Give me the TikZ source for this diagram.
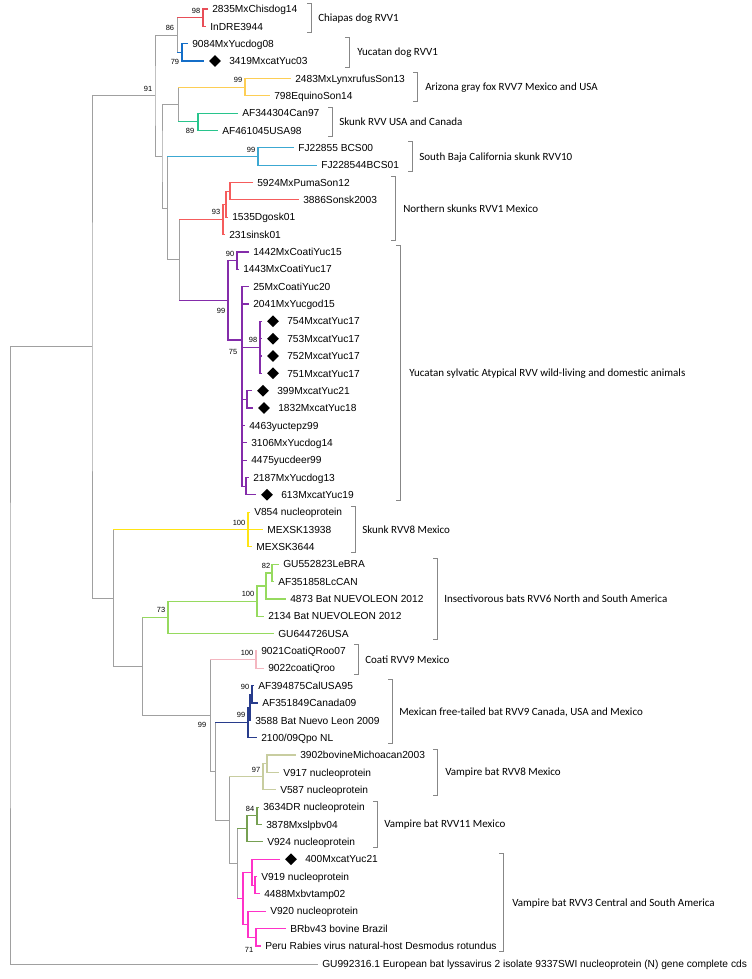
\documentclass[tikz,border=0pt]{standalone}
\usepackage{fontspec}
\setmainfont{Liberation Sans}
\newfontfamily\cladefont{Carlito}
\usetikzlibrary{shapes.geometric}
\definecolor{brgrey}{RGB}{160,160,160}
\definecolor{bkgrey}{RGB}{135,135,135}
\definecolor{chisred}{RGB}{232,78,88}
\definecolor{ydogblue}{RGB}{20,110,200}
\definecolor{foxyellow}{RGB}{253,206,85}
\definecolor{skgreen}{RGB}{40,196,140}
\definecolor{bajablue}{RGB}{60,168,210}
\definecolor{nskred}{RGB}{245,92,92}
\definecolor{yucpurple}{RGB}{132,44,170}
\definecolor{skyellow}{RGB}{255,228,20}
\definecolor{insgreen}{RGB}{150,218,95}
\definecolor{coatipink}{RGB}{244,182,192}
\definecolor{tbnavy}{RGB}{40,60,140}
\definecolor{vbtan}{RGB}{200,205,160}
\definecolor{vbolive}{RGB}{118,160,82}
\definecolor{vbmag}{RGB}{255,50,200}

\begin{document}
\begin{tikzpicture}[x=0.75pt, y=-0.75pt,
    br/.style={draw=brgrey, line width=0.75pt},
    chis/.style={draw=chisred, line width=0.9pt},
    ydog/.style={draw=ydogblue, line width=0.9pt},
    fox/.style={draw=foxyellow, line width=0.9pt},
    sku/.style={draw=skgreen, line width=0.9pt},
    baja/.style={draw=bajablue, line width=0.9pt},
    nsk/.style={draw=nskred, line width=0.9pt},
    yuc/.style={draw=yucpurple, line width=0.9pt},
    skeight/.style={draw=skyellow, line width=0.9pt},
    ins/.style={draw=insgreen, line width=0.9pt},
    coati/.style={draw=coatipink, line width=0.9pt},
    tb/.style={draw=tbnavy, line width=0.9pt},
    vbeight/.style={draw=vbtan, line width=0.9pt},
    vbeleven/.style={draw=vbolive, line width=0.9pt},
    vbthree/.style={draw=vbmag, line width=0.9pt},
    brk/.style={draw=bkgrey, line width=0.7pt},
    leaf/.style={anchor=west, inner sep=0pt, text height=5.5pt, text depth=0pt, font=\fontsize{7.65}{9}\selectfont},
    clade/.style={anchor=west, inner sep=0pt, text height=5.3pt, text depth=0pt, font=\cladefont\fontsize{8.25}{10}\selectfont},
    bs/.style={inner sep=0pt, font=\fontsize{5.6}{6}\selectfont},
    catmark/.style={diamond, fill=black, inner sep=0pt, minimum size=9pt}]

  \useasboundingbox (0,0) rectangle (751,979);

  % tips and leaf labels
  \coordinate (t0) at (208,9);      \node[leaf] (l0) at (212,9) {2835MxChisdog14};
  \coordinate (t1) at (206,26.35);  \node[leaf] (l1) at (210,26.35) {InDRE3944};
  \coordinate (t2) at (188,43.7);   \node[leaf] (l2) at (192,43.7) {9084MxYucdog08};
  \coordinate (t3) at (204,61.05);  \node[catmark] (m3) at (215,61.05) {};
  \node[leaf] (l3) at (229,61.05) {3419MxcatYuc03};
  \coordinate (t4) at (291,78.4);   \node[leaf] (l4) at (295,78.4) {2483MxLynxrufusSon13};
  \coordinate (t5) at (270,95.75);  \node[leaf] (l5) at (274,95.75) {798EquinoSon14};
  \coordinate (t6) at (238,113.1);  \node[leaf] (l6) at (242,113.1) {AF344304Can97};
  \coordinate (t7) at (218,130.45); \node[leaf] (l7) at (222,130.45) {AF461045USA98};
  \coordinate (t8) at (294,147.8);  \node[leaf] (l8) at (298,147.8) {FJ22855 BCS00};
  \coordinate (t9) at (317,165.15); \node[leaf] (l9) at (321,165.15) {FJ228544BCS01};
  \coordinate (t10) at (253,182.5); \node[leaf] (l10) at (257,182.5) {5924MxPumaSon12};
  \coordinate (t11) at (299,199.85); \node[leaf] (l11) at (303,199.85) {3886Sonsk2003};
  \coordinate (t12) at (228,217.2); \node[leaf] (l12) at (232,217.2) {1535Dgosk01};
  \coordinate (t13) at (225,234.55); \node[leaf] (l13) at (229,234.55) {231sinsk01};
  \coordinate (t14) at (249,251.9); \node[leaf] (l14) at (253,251.9) {1442MxCoatiYuc15};
  \coordinate (t15) at (239,269.25); \node[leaf] (l15) at (243,269.25) {1443MxCoatiYuc17};
  \coordinate (t16) at (249,286.6); \node[leaf] (l16) at (253,286.6) {25MxCoatiYuc20};
  \coordinate (t17) at (249,303.95); \node[leaf] (l17) at (253,303.95) {2041MxYucgod15};
  \coordinate (t18) at (262,321.3); \node[catmark] (m18) at (273,321.3) {};
  \node[leaf] (l18) at (287,321.3) {754MxcatYuc17};
  \coordinate (t19) at (262,338.65); \node[catmark] (m19) at (273,338.65) {};
  \node[leaf] (l19) at (287,338.65) {753MxcatYuc17};
  \coordinate (t20) at (262,356); \node[catmark] (m20) at (273,356) {};
  \node[leaf] (l20) at (287,356) {752MxcatYuc17};
  \coordinate (t21) at (262,373.35); \node[catmark] (m21) at (273,373.35) {};
  \node[leaf] (l21) at (287,373.35) {751MxcatYuc17};
  \coordinate (t22) at (252,390.7); \node[catmark] (m22) at (263,390.7) {};
  \node[leaf] (l22) at (277,390.7) {399MxcatYuc21};
  \coordinate (t23) at (253,408.05); \node[catmark] (m23) at (264,408.05) {};
  \node[leaf] (l23) at (278,408.05) {1832MxcatYuc18};
  \coordinate (t24) at (245,425.4); \node[leaf] (l24) at (249,425.4) {4463yuctepz99};
  \coordinate (t25) at (247,442.75); \node[leaf] (l25) at (251,442.75) {3106MxYucdog14};
  \coordinate (t26) at (247,460.1); \node[leaf] (l26) at (251,460.1) {4475yucdeer99};
  \coordinate (t27) at (249,477.45); \node[leaf] (l27) at (253,477.45) {2187MxYucdog13};
  \coordinate (t28) at (256,494.8); \node[catmark] (m28) at (267,494.8) {};
  \node[leaf] (l28) at (281,494.8) {613MxcatYuc19};
  \coordinate (t29) at (250,512.15); \node[leaf] (l29) at (254,512.15) {V854 nucleoprotein};
  \coordinate (t30) at (263,529.5); \node[leaf] (l30) at (267,529.5) {MEXSK13938};
  \coordinate (t31) at (252,546.85); \node[leaf] (l31) at (256,546.85) {MEXSK3644};
  \coordinate (t32) at (279,564.2); \node[leaf] (l32) at (283,564.2) {GU552823LeBRA};
  \coordinate (t33) at (274,581.55); \node[leaf] (l33) at (278,581.55) {AF351858LcCAN};
  \coordinate (t34) at (286,598.9); \node[leaf] (l34) at (290,598.9) {4873 Bat NUEVOLEON 2012};
  \coordinate (t35) at (264,616.25); \node[leaf] (l35) at (268,616.25) {2134 Bat NUEVOLEON 2012};
  \coordinate (t36) at (274,633.6); \node[leaf] (l36) at (278,633.6) {GU644726USA};
  \coordinate (t37) at (257,650.95); \node[leaf] (l37) at (261,650.95) {9021CoatiQRoo07};
  \coordinate (t38) at (264,668.3); \node[leaf] (l38) at (268,668.3) {9022coatiQroo};
  \coordinate (t39) at (254,685.65); \node[leaf] (l39) at (258,685.65) {AF394875CalUSA95};
  \coordinate (t40) at (258,703); \node[leaf] (l40) at (262,703) {AF351849Canada09};
  \coordinate (t41) at (251,720.35); \node[leaf] (l41) at (255,720.35) {3588 Bat Nuevo Leon 2009};
  \coordinate (t42) at (257,737.7); \node[leaf] (l42) at (261,737.7) {2100/09Qpo NL};
  \coordinate (t43) at (296,755.05); \node[leaf] (l43) at (300,755.05) {3902bovineMichoacan2003};
  \coordinate (t44) at (279,772.4); \node[leaf] (l44) at (283,772.4) {V917 nucleoprotein};
  \coordinate (t45) at (276,789.75); \node[leaf] (l45) at (280,789.75) {V587 nucleoprotein};
  \coordinate (t46) at (259,807.1); \node[leaf] (l46) at (263,807.1) {3634DR nucleoprotein};
  \coordinate (t47) at (262,824.45); \node[leaf] (l47) at (266,824.45) {3878Mxslpbv04};
  \coordinate (t48) at (263,841.8); \node[leaf] (l48) at (267,841.8) {V924 nucleoprotein};
  \coordinate (t49) at (280,859.15); \node[catmark] (m49) at (291,859.15) {};
  \node[leaf] (l49) at (305,859.15) {400MxcatYuc21};
  \coordinate (t50) at (257,876.5); \node[leaf] (l50) at (261,876.5) {V919 nucleoprotein};
  \coordinate (t51) at (260,893.85); \node[leaf] (l51) at (264,893.85) {4488Mxbvtamp02};
  \coordinate (t52) at (266,911.2); \node[leaf] (l52) at (270,911.2) {V920 nucleoprotein};
  \coordinate (t53) at (286,928.55); \node[leaf] (l53) at (290,928.55) {BRbv43 bovine Brazil};
  \coordinate (t54) at (261,945.9); \node[leaf] (l54) at (265,945.9) {Peru Rabies virus natural-host Desmodus rotundus};
  \coordinate (t55) at (318,964); \node[leaf] (l55) at (322,964) {GU992316.1 European bat lyssavirus 2 isolate 9337SWI nucleoprotein (N) gene complete cds};

  % inner nodes
  \coordinate (root) at (10,655.4);
  \coordinate (A) at (92,346.9);
  \coordinate (n91) at (155,95.7);
  \coordinate (n86) at (177,35);
  \coordinate (rd98) at (203,17.7);
  \coordinate (bu79) at (182,52.4);
  \coordinate (nB) at (162,156.3);
  \coordinate (nC) at (178,104.4);
  \coordinate (ye99) at (245,87.1);
  \coordinate (gn89) at (198,121.8);
  \coordinate (nD) at (167,208.2);
  \coordinate (cy99) at (258,156.5);
  \coordinate (nE) at (179,259.9);
  \coordinate (rd93) at (223,219.4);
  \coordinate (rdB) at (226,204.2);
  \coordinate (rdA) at (230,191.2);
  \coordinate (pu99) at (228,300.3);
  \coordinate (pu90) at (237,260.6);
  \coordinate (pu75) at (242,340);
  \coordinate (pu98) at (260,347.3);
  \coordinate (puC) at (247,399.4);
  \coordinate (puD) at (246,486.1);
  \coordinate (L1) at (113,598);
  \coordinate (ye100) at (248,529.5);
  \coordinate (L2) at (142,666.5);
  \coordinate (gr73) at (168,617.4);
  \coordinate (gr100) at (257,601.1);
  \coordinate (grA) at (266,585.9);
  \coordinate (gr82) at (272,572.9);
  \coordinate (L3) at (210,715.5);
  \coordinate (pk100) at (256,659.6);
  \coordinate (L4) at (215,771.3);
  \coordinate (bl99) at (248,722.5);
  \coordinate (blA) at (250,707.3);
  \coordinate (bl90) at (252,694.3);
  \coordinate (L5) at (229,820.1);
  \coordinate (tn97) at (263,776.7);
  \coordinate (tnA) at (267,763.7);
  \coordinate (L6) at (237,863.5);
  \coordinate (ol) at (247,828.8);
  \coordinate (ol84) at (257,815.8);
  \coordinate (pm) at (243,898.2);
  \coordinate (pmB) at (252,872.2);
  \coordinate (pmA) at (255,885.2);
  \coordinate (pmC) at (248,924.2);
  \coordinate (pmD) at (256,937.2);

  % branches
  \draw[br] (A) -| (root) |- (t55);
  \draw[br] (n91) -| (A) |- (L1);
  \draw[br] (n86) -| (n91) |- (nB);
  \draw[br] (n86 |- rd98) -- (n86 |- bu79);
  \draw[chis] (n86 |- rd98) -- (rd98);
  \draw[ydog] (n86 |- bu79) -- (bu79);
  \draw[chis] (t0) -| (rd98) |- (t1);
  \draw[ydog] (t2) -| (bu79) |- (t3);
  \draw[br] (nC) -| (nB) |- (nD);
  \draw[br] (nC |- ye99) -- (nC |- gn89);
  \draw[fox] (nC |- ye99) -- (ye99);
  \draw[sku] (nC |- gn89) -- (gn89);
  \draw[fox] (t4) -| (ye99) |- (t5);
  \draw[sku] (t6) -| (gn89) |- (t7);
  \draw[br] (nD |- cy99) -- (nD |- nE) -- (nE);
  \draw[baja] (nD |- cy99) -- (cy99);
  \draw[baja] (t8) -| (cy99) |- (t9);
  \draw[br] (nE |- rd93) -- (nE |- pu99);
  \draw[nsk] (nE |- rd93) -- (rd93);
  \draw[yuc] (nE |- pu99) -- (pu99);
  \draw[nsk] (rdB) -| (rd93) |- (t13);
  \draw[nsk] (rdA) -| (rdB) |- (t12);
  \draw[nsk] (t10) -| (rdA) |- (t11);
  \draw[yuc] (pu90) -| (pu99) |- (pu75);
  \draw[yuc] (t14) -| (pu90) |- (t15);
  \draw[yuc] (t16) -| (pu75) |- (puD);
  \draw[yuc] (pu75 |- t17) -- (t17);
  \draw[yuc] (pu75 |- pu98) -- (pu98);
  \draw[yuc] (pu75 |- puC) -- (puC);
  \draw[yuc] (pu75 |- t24) -- (t24);
  \draw[yuc] (pu75 |- t25) -- (t25);
  \draw[yuc] (pu75 |- t26) -- (t26);
  \draw[yuc] (t18) -| (pu98) |- (t21);
  \draw[yuc] (pu98 |- t19) -- (t19);
  \draw[yuc] (pu98 |- t20) -- (t20);
  \draw[yuc] (t22) -| (puC) |- (t23);
  \draw[yuc] (t27) -| (puD) |- (t28);
  \draw[br] (L1 |- ye100) -- (L1 |- L2) -- (L2);
  \draw[skeight] (L1 |- ye100) -- (ye100);
  \draw[skeight] (t29) -| (ye100) |- (t31);
  \draw[skeight] (ye100) -- (t30);
  \draw[br] (L2 |- gr73) -- (L2 |- L3) -- (L3);
  \draw[ins] (L2 |- gr73) -- (gr73);
  \draw[ins] (gr100) -| (gr73) |- (t36);
  \draw[ins] (grA) -| (gr100) |- (t35);
  \draw[ins] (gr82) -| (grA) |- (t34);
  \draw[ins] (t32) -| (gr82) |- (t33);
  \draw[br] (L3 |- pk100) -- (L3 |- L4) -- (L4);
  \draw[coati] (L3 |- pk100) -- (pk100);
  \draw[coati] (t37) -| (pk100) |- (t38);
  \draw[br] (L4 |- bl99) -- (L4 |- L5) -- (L5);
  \draw[tb] (L4 |- bl99) -- (bl99);
  \draw[tb] (blA) -| (bl99) |- (t42);
  \draw[tb] (bl90) -| (blA) |- (t41);
  \draw[tb] (t39) -| (bl90) |- (t40);
  \draw[br] (L5 |- tn97) -- (L5 |- L6) -- (L6);
  \draw[vbeight] (L5 |- tn97) -- (tn97);
  \draw[vbeight] (tnA) -| (tn97) |- (t45);
  \draw[vbeight] (t43) -| (tnA) |- (t44);
  \draw[br] (L6 |- ol) -- (L6 |- pm);
  \draw[vbeleven] (L6 |- ol) -- (ol);
  \draw[vbthree] (L6 |- pm) -- (pm);
  \draw[vbeleven] (ol84) -| (ol) |- (t48);
  \draw[vbeleven] (t46) -| (ol84) |- (t47);
  \draw[vbthree] (pmB) -| (pm) |- (pmC);
  \draw[vbthree] (t49) -| (pmB) |- (pmA);
  \draw[vbthree] (t50) -| (pmA) |- (t51);
  \draw[vbthree] (t52) -| (pmC) |- (pmD);
  \draw[vbthree] (t53) -| (pmD) |- (t54);

  % bootstrap values
  \node[bs] (b1) at (196,10.5) {98};
  \node[bs] (b2) at (170,28) {86};
  \node[bs] (b3) at (175,62) {79};
  \node[bs] (b4) at (148,88.5) {91};
  \node[bs] (b5) at (238,80) {99};
  \node[bs] (b6) at (190,131) {89};
  \node[bs] (b7) at (251,149.5) {99};
  \node[bs] (b8) at (216,212) {93};
  \node[bs] (b9) at (230,253.5) {90};
  \node[bs] (b10) at (221,311) {99};
  \node[bs] (b11) at (253,340) {98};
  \node[bs] (b12) at (233,352) {75};
  \node[bs] (b13) at (239,523) {100};
  \node[bs] (b14) at (266,566) {82};
  \node[bs] (b15) at (248,594) {100};
  \node[bs] (b16) at (161,610) {73};
  \node[bs] (b17) at (247,652.5) {100};
  \node[bs] (b18) at (245,687) {90};
  \node[bs] (b19) at (241,715) {99};
  \node[bs] (b20) at (202,725) {99};
  \node[bs] (b21) at (256,769.5) {97};
  \node[bs] (b22) at (250,808.5) {84};
  \node[bs] (b23) at (249,950) {71};

  % clade brackets
  \draw[brk] (307,3) -- (311,3) -- (311,32.35) -- (307,32.35);
  \node[clade] (c1) at (318,17.7) {Chiapas dog RVV1};
  \draw[brk] (345,37.7) -- (349,37.7) -- (349,67.05) -- (345,67.05);
  \node[clade] (c2) at (357,52.4) {Yucatan dog RVV1};
  \draw[brk] (413,72.4) -- (417,72.4) -- (417,101.75) -- (413,101.75);
  \node[clade] (c3) at (425,87.1) {Arizona gray fox RVV7 Mexico and USA};
  \draw[brk] (328,107.1) -- (332,107.1) -- (332,136.45) -- (328,136.45);
  \node[clade] (c4) at (339,121.8) {Skunk RVV USA and Canada};
  \draw[brk] (408,141.8) -- (412,141.8) -- (412,171.15) -- (408,171.15);
  \node[clade] (c5) at (419,156.5) {South Baja California skunk RVV10};
  \draw[brk] (391,176.5) -- (395,176.5) -- (395,240.55) -- (391,240.55);
  \node[clade] (c6) at (403,208.5) {Northern skunks RVV1 Mexico};
  \draw[brk] (396,245.9) -- (400,245.9) -- (400,500.8) -- (396,500.8);
  \node[clade] (c7) at (409,373.4) {Yucatan sylvatic Atypical RVV wild-living and domestic animals};
  \draw[brk] (351,506.15) -- (355,506.15) -- (355,552.85) -- (351,552.85);
  \node[clade] (c8) at (362,529.5) {Skunk RVV8 Mexico};
  \draw[brk] (433,558.2) -- (437,558.2) -- (437,639.6) -- (433,639.6);
  \node[clade] (c9) at (444,598.9) {Insectivorous bats RVV6 North and South America};
  \draw[brk] (354,644.95) -- (358,644.95) -- (358,674.3) -- (354,674.3);
  \node[clade] (c10) at (365,659.6) {Coati RVV9 Mexico};
  \draw[brk] (388,679.65) -- (392,679.65) -- (392,743.7) -- (388,743.7);
  \node[clade] (c11) at (399,711.7) {Mexican free-tailed bat RVV9 Canada, USA and Mexico};
  \draw[brk] (433,749.05) -- (437,749.05) -- (437,795.75) -- (433,795.75);
  \node[clade] (c12) at (445,772.4) {Vampire bat RVV8 Mexico};
  \draw[brk] (373,801.1) -- (377,801.1) -- (377,847.8) -- (373,847.8);
  \node[clade] (c13) at (384,824.45) {Vampire bat RVV11 Mexico};
  \draw[brk] (499,853.15) -- (503,853.15) -- (503,951.9) -- (499,951.9);
  \node[clade] (c14) at (512,902.5) {Vampire bat RVV3 Central and South America};
\end{tikzpicture}
\end{document}
